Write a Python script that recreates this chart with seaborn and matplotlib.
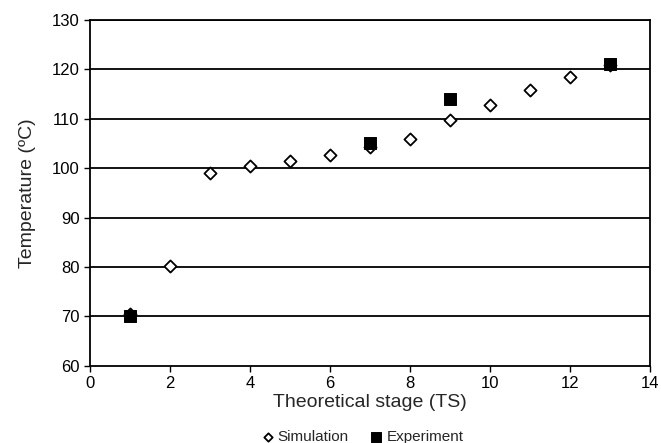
import pandas as pd
import matplotlib
matplotlib.use('Agg')
import matplotlib.pyplot as plt
import seaborn as sns

# Data
sim_stage = [1, 2, 3, 4, 5, 6, 7, 8, 9, 10, 11, 12, 13]
sim_temp = [70.5, 80.2, 99.1, 100.4, 101.4, 102.7, 104.2, 106.0, 109.8, 112.7, 115.8, 118.5, 120.8]
exp_stage = [1, 7, 9, 13]
exp_temp = [70.2, 105.2, 114.1, 121.1]

sns.set_style('white')
plt.rcParams['font.family'] = ['Liberation Sans', 'DejaVu Sans']

sim = pd.DataFrame({'TS': sim_stage, 'T': sim_temp})
exp = pd.DataFrame({'TS': exp_stage, 'T': exp_temp})

fig = plt.figure(figsize=(6.61, 4.43), dpi=100)
ax = fig.add_axes([0.136, 0.174, 0.848, 0.781])

for y in range(70, 131, 10):
    ax.axhline(y, color='black', lw=1.3, zorder=1)

sns.scatterplot(data=sim, x='TS', y='T', marker='D', s=38, facecolor='white',
                edgecolor='black', linewidth=1.3, ax=ax, zorder=3, label='Simulation')
sns.scatterplot(data=exp, x='TS', y='T', marker='s', s=75, color='black',
                edgecolor='black', ax=ax, zorder=4, label='Experiment')

ax.set_xlim(0, 14)
ax.set_ylim(60, 130)
ax.set_xticks(range(0, 15, 2))
ax.set_yticks(range(60, 131, 10))
for s in ax.spines.values():
    s.set_color('black')
    s.set_linewidth(1.3)
ax.tick_params(axis='both', direction='out', length=4, width=1, colors='black',
               labelsize=12, left=True, bottom=True)
ax.set_xlabel('Theoretical stage (TS)', fontsize=14, labelpad=2)
ax.set_ylabel('Temperature (ºC)', fontsize=14, labelpad=11)

leg = ax.legend(loc='upper center', bbox_to_anchor=(0.485, -0.158), ncol=2, frameon=False,
                fontsize=11, handletextpad=0.15, columnspacing=1.3, handlelength=1.0,
                borderpad=0.1)
leg.legend_handles[0].set_sizes([18])
leg.legend_handles[1].set_sizes([60])

plt.savefig('out.png')
